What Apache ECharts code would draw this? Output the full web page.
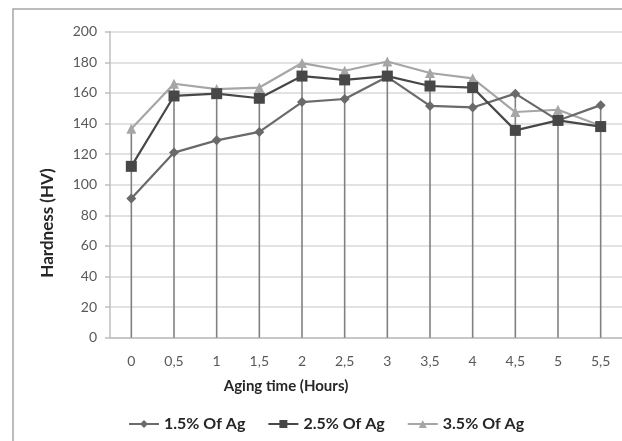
<!DOCTYPE html>
<html>
<head>
<meta charset="utf-8">
<script src="https://cdn.jsdelivr.net/npm/echarts@6/dist/echarts.min.js"></script>
<style>html,body{margin:0;padding:0;background:#fff}#c{width:622px;height:441px}</style>
</head>
<body>
<div id="c"></div>
<script>
var categories = ['0','0,5','1','1,5','2','2,5','3','3,5','4','4,5','5','5,5'];
var ag15 = [91, 121, 129, 134.5, 154, 156, 170.5, 151.5, 150.5, 159.5, 142, 152];
var ag25 = [112, 158, 159.5, 156.5, 171, 168.5, 171, 164.5, 163.5, 135.5, 142, 138];
var ag35 = [136.5, 166, 162.5, 163.5, 179.5, 174.5, 180.5, 173, 169.5, 147.5, 149, 138.5];
var yTicks = [0, 20, 40, 60, 80, 100, 120, 140, 160, 180, 200];
var seriesNames = ['1.5% Of Ag', '2.5% Of Ag', '3.5% Of Ag'];

var dropTop = categories.map(function (c, i) { return Math.max(ag15[i], ag25[i], ag35[i]); });
var FONT = 'Lato, "Open Sans", sans-serif';

var chart = echarts.init(document.getElementById('c'), null, {renderer: 'canvas'});
chart.setOption({
  animation: false,
  backgroundColor: '#fff',
  textStyle: {fontFamily: FONT},
  grid: {left: 110, right: 0, top: 31.7, bottom: 103.3, containLabel: false},
  graphic: [
    {type: 'rect', shape: {x: 13, y: 9, width: 700, height: 500},
     style: {fill: 'none', stroke: '#a6a6a6', lineWidth: 1.5}, silent: true, z: -10},
    {type: 'text', x: 286, y: 386,
     style: {text: 'Aging time (Hours)', fill: '#262626', font: 'bold 15px ' + FONT,
             textAlign: 'center', textVerticalAlign: 'middle'}},
    {type: 'text', x: 48, y: 223, rotation: Math.PI / 2,
     style: {text: 'Hardness (HV)', fill: '#262626', font: 'bold 17px ' + FONT,
             textAlign: 'center', textVerticalAlign: 'middle'}}
  ],
  legend: {
    data: seriesNames,
    left: 123, top: 411,
    itemWidth: 30, itemHeight: 10, itemGap: 22,
    textStyle: {fontFamily: FONT, fontSize: 16, fontWeight: 'bold', color: '#262626'}
  },
  xAxis: {
    type: 'category',
    data: categories,
    boundaryGap: true,
    axisLine: {show: true, lineStyle: {color: '#bfbfbf', width: 1.5}},
    axisTick: {show: false},
    axisLabel: {color: '#595959', fontSize: 14, margin: 17, fontFamily: FONT},
    splitLine: {show: false}
  },
  yAxis: {
    type: 'value',
    min: 0, max: 200, interval: 20,
    axisLine: {show: true, lineStyle: {color: '#bfbfbf', width: 1.5}},
    axisTick: {show: true, length: 5, lineStyle: {color: '#bfbfbf', width: 1.5}},
    axisLabel: {color: '#595959', fontSize: 14, margin: 13, fontFamily: FONT,
      formatter: function (v) { return yTicks.indexOf(v) >= 0 ? String(v) : ''; }},
    splitLine: {show: true, lineStyle: {color: '#d9d9d9', width: 1.5}}
  },
  series: [
    {name: 'drop', type: 'bar', data: dropTop, barWidth: 1.6, silent: true,
     itemStyle: {color: '#808080'}, z: 1, legendHoverLink: false},
    {name: seriesNames[0], type: 'line', data: ag15, symbol: 'diamond', symbolSize: 10,
     lineStyle: {color: '#6a6a6a', width: 2.2}, itemStyle: {color: '#6a6a6a'}, z: 3},
    {name: seriesNames[1], type: 'line', data: ag25, symbol: 'rect', symbolSize: 11,
     lineStyle: {color: '#474747', width: 2.2}, itemStyle: {color: '#474747'}, z: 4},
    {name: seriesNames[2], type: 'line', data: ag35, symbol: 'triangle', symbolSize: 10,
     lineStyle: {color: '#a6a6a6', width: 2.2}, itemStyle: {color: '#a6a6a6'}, z: 2}
  ]
});
</script>
</body>
</html>
